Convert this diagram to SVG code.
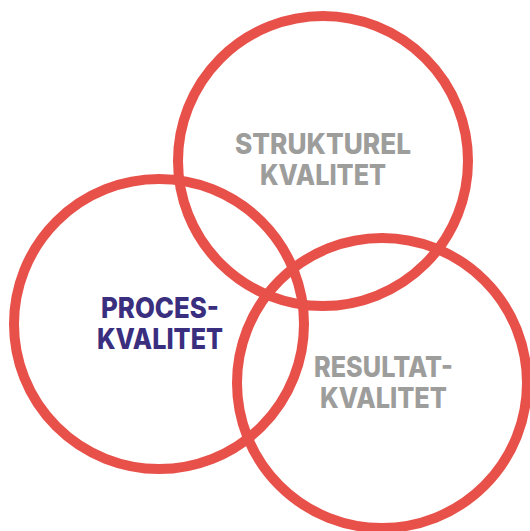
<svg xmlns="http://www.w3.org/2000/svg" width="530" height="531" viewBox="0 0 530 531">
<style>
.c{fill:none;stroke:#E8514A;stroke-width:10}
.t{font-family:"Inter","Lato","Liberation Sans",sans-serif;font-weight:800;font-size:28px;text-anchor:middle}
.g{fill:#9D9D9C}
.p{fill:#3A2E7E}
</style>
<rect width="530" height="531" fill="#fff"/>
<g id="struktur">
<circle class="c" cx="323" cy="161" r="145"/>
<text class="t g" x="323" y="154" textLength="176" lengthAdjust="spacingAndGlyphs">STRUKTUREL</text>
<text class="t g" x="323" y="185" textLength="126" lengthAdjust="spacingAndGlyphs">KVALITET</text>
</g>
<g id="proces">
<circle class="c" cx="159" cy="324" r="145"/>
<text class="t p" x="160" y="318" textLength="118" lengthAdjust="spacingAndGlyphs">PROCES-</text>
<text class="t p" x="160" y="349" textLength="126" lengthAdjust="spacingAndGlyphs">KVALITET</text>
</g>
<g id="resultat">
<circle class="c" cx="382" cy="383" r="145"/>
<text class="t g" x="383.5" y="377" textLength="139" lengthAdjust="spacingAndGlyphs">RESULTAT-</text>
<text class="t g" x="383.5" y="408" textLength="127" lengthAdjust="spacingAndGlyphs">KVALITET</text>
</g>
<g id="connectors"></g>
</svg>
